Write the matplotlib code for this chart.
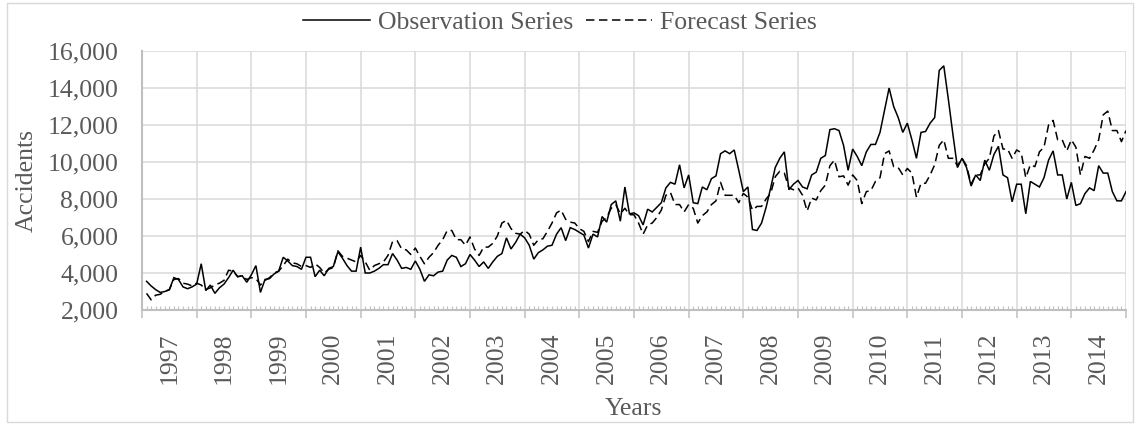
import numpy as np
import matplotlib
matplotlib.use("Agg")
import matplotlib.pyplot as plt
import matplotlib.transforms as mtransforms
from matplotlib.lines import Line2D
from matplotlib.patches import Rectangle
from matplotlib.ticker import FuncFormatter

plt.rcParams['font.family'] = ['Liberation Serif', 'DejaVu Serif']

years = list(range(1997, 2015))

# Monthly accident counts, one row per year (Jan..Dec)
observation = [
    3550, 3300, 3100, 2950, 3000, 3100, 3750, 3650, 3250, 3150, 3250, 3400,   # 1997
    4500, 3050, 3350, 2900, 3200, 3400, 3750, 4150, 3800, 3850, 3500, 3900,   # 1998
    4400, 2950, 3650, 3700, 3950, 4100, 4850, 4650, 4400, 4350, 4200, 4850,   # 1999
    4850, 3800, 4150, 3850, 4250, 4350, 5150, 4800, 4400, 4100, 4100, 5400,   # 2000
    4000, 4000, 4100, 4250, 4450, 4450, 5050, 4700, 4250, 4300, 4200, 4650,   # 2001
    4200, 3550, 3900, 3850, 4050, 4100, 4700, 4950, 4850, 4350, 4500, 5000,   # 2002
    4700, 4350, 4600, 4250, 4600, 4900, 5050, 5900, 5300, 5650, 6100, 5900,   # 2003
    5500, 4750, 5100, 5250, 5450, 5500, 6100, 6450, 5750, 6450, 6350, 6200,   # 2004
    6050, 5350, 6100, 5950, 7050, 6750, 7700, 7900, 6800, 8650, 7200, 7250,   # 2005
    7100, 6600, 7450, 7300, 7550, 7800, 8600, 8900, 8800, 9850, 8600, 9300,   # 2006
    7800, 7750, 8650, 8500, 9100, 9250, 10450, 10600, 10450, 10650, 9550, 8400,  # 2007
    8650, 6350, 6300, 6700, 7550, 8600, 9700, 10200, 10550, 8500, 8800, 9000,    # 2008
    8650, 8550, 9300, 9450, 10200, 10350, 11750, 11800, 11700, 10900, 9550, 10700,  # 2009
    10300, 9800, 10550, 10950, 10950, 11600, 12800, 14000, 13000, 12400, 11600, 12100,  # 2010
    11200, 10200, 11600, 11650, 12100, 12400, 14950, 15200, 13400, 11500, 9700, 10200,  # 2011
    9700, 8700, 9300, 9000, 10100, 9550, 10400, 10850, 9300, 9150, 7850, 8800,   # 2012
    8800, 7200, 8950, 8800, 8650, 9150, 10100, 10600, 9300, 9300, 8000, 8900,    # 2013
    7650, 7750, 8300, 8600, 8450, 9800, 9400, 9400, 8400, 7900, 7900, 8400,      # 2014
]

forecast = [
    2900, 2550, 2800, 2850, 3000, 3100, 3650, 3700, 3450, 3400, 3300, 3450,   # 1997
    3350, 3100, 3200, 3350, 3450, 3600, 4150, 4100, 3800, 3850, 3650, 3750,   # 1998
    3700, 3350, 3600, 3750, 4000, 4100, 4400, 4750, 4550, 4500, 4350, 4400,   # 1999
    4300, 4500, 4300, 4000, 4200, 4300, 5200, 4900, 4800, 4700, 4600, 4950,   # 2000
    4600, 4150, 4400, 4500, 4600, 4950, 5700, 5750, 5300, 5250, 5000, 5350,   # 2001
    4900, 4500, 4850, 5100, 5500, 5800, 6300, 6300, 5800, 5800, 5500, 5950,   # 2002
    5300, 4950, 5400, 5400, 5600, 6000, 6700, 6850, 6400, 6150, 6100, 6300,   # 2003
    6100, 5500, 5800, 5850, 6250, 6700, 7250, 7400, 6900, 6750, 6700, 6400,   # 2004
    6250, 5700, 6250, 6200, 6800, 7000, 7500, 7700, 7200, 7500, 7150, 7150,   # 2005
    6700, 6100, 6600, 6700, 7000, 7400, 8200, 8350, 7700, 7700, 7300, 7700,   # 2006
    7500, 6700, 7100, 7300, 7700, 7900, 8900, 8200, 8200, 8200, 7800, 8300,   # 2007
    8100, 7400, 7600, 7600, 8000, 8300, 9200, 9500, 9400, 8600, 8500, 8600,   # 2008
    8200, 7350, 8050, 7950, 8450, 8750, 9800, 10100, 9200, 9250, 8750, 9300,  # 2009
    9000, 7750, 8400, 8450, 8950, 9150, 10450, 10600, 9750, 9700, 9300, 9650,  # 2010
    9400, 8100, 8850, 8850, 9300, 9850, 10900, 11200, 10200, 10200, 9800, 10200,  # 2011
    9800, 8800, 9300, 9300, 9900, 10200, 11400, 11700, 10700, 10700, 10200, 10650,  # 2012
    10500, 9150, 9850, 9750, 10550, 10800, 12000, 12250, 11200, 11200, 10600, 11200,  # 2013
    10800, 9300, 10300, 10200, 10650, 11200, 12550, 12750, 11700, 11700, 11100, 11700,  # 2014
]

series_labels = ["Observation Series", "Forecast Series"]
y_ticks = list(range(2000, 16001, 2000))

W, H = 1136, 425
DPI = 100
TEXT = '#595959'
GRID = '#d9d9d9'
AXIS = '#bfbfbf'
FS = 18.5
DASH = (5.5, 3)

fig = plt.figure(figsize=(W / DPI, H / DPI), dpi=DPI)
ax = fig.add_axes([142 / W, 1 - 310 / H, (1126 - 142) / W, (310 - 51) / H])

n_months = len(observation)
x = np.arange(1, n_months + 1)
ax.plot(x, observation, color='black', lw=1.1, solid_joinstyle='miter', zorder=3)
ax.plot(x, forecast, color='black', lw=1.1, dashes=DASH, zorder=3)

ax.set_xlim(0, n_months)
ax.set_ylim(y_ticks[0], y_ticks[-1])

# Year boundaries: outward ticks and vertical grid; months: small inward ticks
ax.set_xticks(np.arange(0, n_months + 1, 12))
ax.set_xticklabels([])
minor = [m for m in range(1, n_months) if m % 12 != 0]
ax.set_xticks(minor, minor=True)
ax.tick_params(axis='x', which='major', direction='out', length=5.5, width=1.1, color=AXIS)
ax.tick_params(axis='x', which='minor', direction='in', length=3, width=0.8, color=AXIS)

ax.set_yticks(y_ticks)
ax.yaxis.set_major_formatter(FuncFormatter(lambda v, p: f"{int(v):,}"))
ax.tick_params(axis='y', which='major', length=0, pad=17, labelsize=FS, labelcolor=TEXT)

ax.grid(True, which='major', color=GRID, lw=1.1)
ax.set_axisbelow(True)
for side in ('top', 'right'):
    ax.spines[side].set_visible(False)
for side in ('left', 'bottom'):
    ax.spines[side].set_color(AXIS)
    ax.spines[side].set_linewidth(1.5)

# Year labels centred in each year span
trans = mtransforms.blended_transform_factory(ax.transData, ax.transAxes)
for k, yr in enumerate(years):
    ax.text(k * 12 + 6, -(333 - 310) / (310 - 51), str(yr), rotation=90,
            ha='center', va='top', fontsize=FS, color=TEXT, transform=trans)

fig.text(27 / W, 1 - 180 / H, "Accidents", rotation=90, ha='center', va='center',
         fontsize=FS, color=TEXT)
fig.text(633 / W, 1 - 409 / H, "Years", ha='center', va='center',
         fontsize=FS, color=TEXT)

handles = [Line2D([], [], color='black', lw=1.1),
           Line2D([], [], color='black', lw=1.1, dashes=DASH)]
fig.legend(handles, series_labels, loc='center left',
           bbox_to_anchor=(303 / W, 1 - 23 / H), ncol=2, frameon=False,
           fontsize=FS, labelcolor=TEXT, handlelength=2.6, handletextpad=0.3,
           columnspacing=0.5, borderpad=0, borderaxespad=0)

fig.patches.append(Rectangle((6.5 / W, 3 / H), (1133 - 6.5) / W, (422 - 3) / H,
                             transform=fig.transFigure, fill=False, ec=GRID, lw=1))

fig.savefig("out.png", dpi=DPI)
